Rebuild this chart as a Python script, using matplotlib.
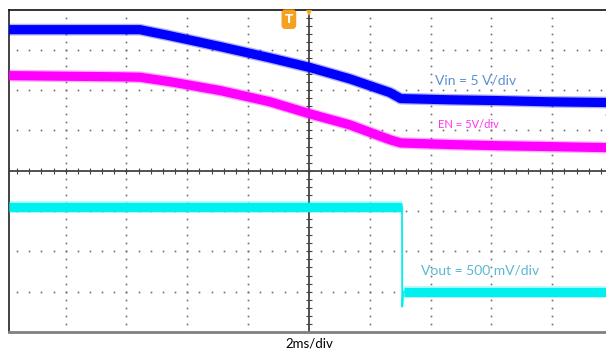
#!/usr/bin/env python3

import numpy as np
import matplotlib
matplotlib.use('Agg')
import matplotlib.pyplot as plt
from matplotlib.patches import Rectangle

# screen positions in divisions (x: 2 ms/div, 0 = trigger; y: 0 = centre line)
vin_t = [-4.94, -2.78, -2.29, -1.46, -0.64, 0.02, 0.67, 1.33, 1.51, 2.32, 3.13, 3.96, 5.0]
vin_y = [3.50, 3.50, 3.35, 3.08, 2.80, 2.56, 2.28, 1.94, 1.79, 1.76, 1.74, 1.71, 1.69]

en_t = [-4.94, -3.11, -2.78, -2.29, -1.46, -0.64, 0.02, 0.67, 1.33, 1.51, 2.32, 3.13, 3.96, 5.0]
en_y = [2.36, 2.33, 2.32, 2.21, 1.99, 1.71, 1.41, 1.14, 0.77, 0.69, 0.65, 0.62, 0.60, 0.57]

# Vout: high level, falling edge with undershoot, low level
vout_hi_t = [-4.94, 1.53]
vout_hi_y = [-0.89, -0.89]
vout_edge_t = [1.53, 1.535, 1.545, 1.56]
vout_edge_y = [-0.89, -3.37, -3.10, -3.00]
vout_lo_t = [1.56, 5.0]
vout_lo_y = [-3.00, -3.00]

labels = ['Vin = 5 V/div', 'EN = 5V/div', 'Vout = 500 mV/div']
timebase = '2ms/div'

W, H = 607, 351
fig = plt.figure(figsize=(W / 100, H / 100), dpi=100)
# screen is cut off on the right, so the axes run past the figure edge
ax = fig.add_axes([8.5 / W, 19 / H, (613 - 8.5) / W, (332 - 9.5) / H])
ax.set_xlim(-4.94, 5.0)
ax.set_ylim(-4, 4)
ax.set_xticks([])
ax.set_yticks([])

# graticule: dotted major lines
dot_col = '#6e6e6e'
for gx in range(-4, 5):
    if gx == 0:
        continue
    ys = np.arange(-4, 4.01, 0.2)
    ax.plot(np.full_like(ys, gx), ys, ls='none', marker='s', ms=1.2, mew=0, color=dot_col)
for gy in range(-3, 4):
    if gy == 0:
        continue
    xs = np.arange(-4.8, 4.81, 0.2)
    ax.plot(xs, np.full_like(xs, gy), ls='none', marker='s', ms=1.2, mew=0, color=dot_col)

# centre lines with minor ticks
ax.axhline(0, color='#222222', lw=1.1, zorder=2)
ax.axvline(0, color='#222222', lw=1.1, zorder=2)
xs = np.arange(-4.8, 4.81, 0.2)
ax.plot(xs, np.zeros_like(xs), ls='none', marker='|', ms=5, mew=0.8, color='#444444')
ys = np.arange(-3.8, 3.81, 0.2)
ax.plot(np.zeros_like(ys), ys, ls='none', marker='_', ms=5, mew=0.8, color='#444444')

# traces
for t, y, c in [(vin_t, vin_y, '#0000ff'), (en_t, en_y, '#ff00ff'),
                (vout_hi_t, vout_hi_y, '#00f0f0'), (vout_lo_t, vout_lo_y, '#00f0f0')]:
    ax.plot(t, y, color=c, lw=8.5, alpha=0.3, solid_joinstyle='round',
            solid_capstyle='butt', zorder=3)
    ax.plot(t, y, color=c, lw=6.6, solid_joinstyle='round', solid_capstyle='butt', zorder=4)
ax.plot(vout_edge_t, vout_edge_y, color='#00f0f0', lw=1.3, zorder=4)

# markers
ax.plot([0], [4.0], marker='v', ms=8, color='#f5a623', mew=0, zorder=6)
ax.plot([4.95], [1.39], marker='<', ms=7, color='#c000c0', mew=0, zorder=6)
ax.text(-0.33, 3.76, 'T', color='white', fontsize=8.5, fontweight='bold',
        ha='center', va='center', family='DejaVu Sans',
        bbox=dict(boxstyle='round,pad=0.22,rounding_size=0.25', fc='#f5a020', ec='#f5a020'),
        zorder=7)

# channel labels
ax.text(2.08, 2.23, labels[0], color='#5b8fd6', fontsize=10, family='Lato',
        ha='left', va='center', zorder=8)
ax.text(2.13, 1.14, labels[1], color='#ff33ee', fontsize=8, family='Lato',
        ha='left', va='center', zorder=8)
ax.text(1.84, -2.48, labels[2], color='#5ab8d0', fontsize=10, family='Lato',
        ha='left', va='center', zorder=8)

fig.text(309 / W, 1 - 344 / H, timebase, ha='center', va='center', fontsize=9.5,
         family='Lato', color='black')

ax.spines['right'].set_visible(False)
ax.spines['left'].set_color('#333333')
ax.spines['left'].set_linewidth(1.3)
ax.spines['top'].set_color('#111111')
ax.spines['top'].set_linewidth(1.2)
ax.spines['bottom'].set_color('#808080')
ax.spines['bottom'].set_linewidth(2.0)

# blank the last pixel column so nothing shows as a frame on the right
fig.add_artist(Rectangle((606 / W, 0), 2 / W, 1, transform=fig.transFigure,
                         fc='white', ec='none', zorder=20))

fig.savefig('out.png', dpi=100)
